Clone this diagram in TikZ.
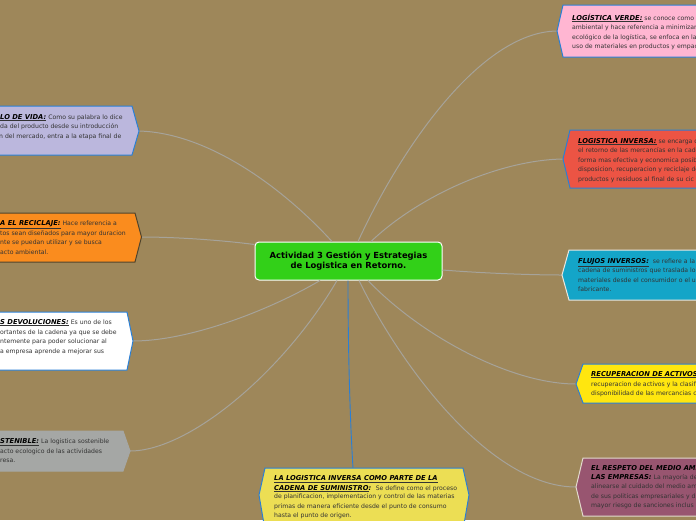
\documentclass[tikz,border=0pt]{standalone}
\usepackage{fontspec}
\setmainfont{DejaVu Sans}
\definecolor{bgc}{HTML}{9E875A}
\definecolor{linkc}{HTML}{A6A39A}
\definecolor{blu}{HTML}{2A7FD5}
\tikzset{x=1pt,y=-1pt,
 hexbox/.style={line width=1pt,line join=miter},
 link/.style={linkc,line width=1pt},
 txt/.style={anchor=base west,inner sep=0pt,font=\fontsize{6.15}{7}\selectfont,text=black!80}}
\newcommand{\ttlb}[1]{{\fontsize{6.75}{7}\selectfont\textbf{\textit{\textcolor{black}{#1}}}}}
\newcommand{\ttl}[1]{\underline{\ttlb{#1}}}
\begin{document}
\begin{tikzpicture}
\useasboundingbox (0,0) rectangle (696,520);
\clip (0,0) rectangle (696,520);
\fill[bgc] (0,0) rectangle (696,520);
\coordinate (tipA) at (139,131); \coordinate (tipB) at (141.5,237); \coordinate (tipC) at (133,341); \coordinate (tipD) at (130,451);
\coordinate (tipE) at (557,31); \coordinate (tipF) at (563,159); \coordinate (tipG) at (562,275); \coordinate (tipH) at (576,384); \coordinate (tipI) at (576,487); \coordinate (tipJ) at (353,468);
\node[draw=white,line width=1pt,fill={rgb,255:red,50;green,208;blue,24},rounded corners=4pt,minimum width=187pt,minimum height=38pt,inner sep=0pt,align=center,font=\fontsize{8.4}{10.2}\selectfont\bfseries] (hub) at (348.5,261) {Actividad 3 Gestión y Estrategias\\de Logistica en Retorno.};
% connectors
\draw[link] ([xshift=-16.5pt]hub.north) .. controls (285,190) and (210,133) .. (tipA);
\draw[link] ([yshift=-3pt]hub.north west) .. controls (220,240) and (175,237) .. (tipB);
\draw[link] ([xshift=-28.5pt]hub.south) .. controls (270,310) and (190,341) .. (tipC);
\draw[link] ([xshift=-11.5pt]hub.south) .. controls (285,370) and (190,451) .. (tipD);
\draw[link] ([xshift=9.5pt]hub.north) .. controls (400,150) and (480,32) .. (tipE);
\draw[link] ([xshift=22.5pt]hub.north) .. controls (420,195) and (500,160) .. (tipF);
\draw[link] ([yshift=-9pt]hub.east) .. controls (480,273) and (530,275) .. (tipG);
\draw[link] ([xshift=19.5pt]hub.south) .. controls (420,335) and (510,384) .. (tipH);
\draw[link] ([xshift=10.5pt]hub.south) .. controls (400,365) and (490,487) .. (tipI);
\draw[blu,line width=0.9pt] ([xshift=-0.5pt]hub.south) .. controls (348,350) and (350,420) .. (tipJ);
% boxes
\draw[hexbox,draw=blu,fill={rgb,255:red,187;green,183;blue,221}] (-10,106) -- (132,106) -- (tipA) -- (132,155) -- (-10,155) -- cycle;
\draw[hexbox,draw=black!50!bgc,fill={rgb,255:red,250;green,140;blue,30}] (-10,213) -- (135,213) -- (tipB) -- (135,262) -- (-10,262) -- cycle;
\draw[hexbox,draw=blu,fill=white] (-10,312) -- (127,312) -- (tipC) -- (127,370) -- (-10,370) -- cycle;
\draw[hexbox,draw={rgb,255:red,165;green,167;blue,165},fill={rgb,255:red,165;green,167;blue,165}] (-10,431) -- (123,431) -- (tipD) -- (123,471) -- (-10,471) -- cycle;
\draw[hexbox,draw=blu,fill={rgb,255:red,255;green,182;blue,210}] (706,5) -- (563,5) -- (tipE) -- (563,57) -- (706,57) -- cycle;
\draw[hexbox,draw=blu,fill={rgb,255:red,236;green,84;blue,68}] (706,130) -- (570,130) -- (tipF) -- (570,188) -- (706,188) -- cycle;
\draw[hexbox,draw=white!80!bgc,fill={rgb,255:red,20;green,165;blue,200}] (706,250) -- (569,250) -- (tipG) -- (569,300) -- (706,300) -- cycle;
\draw[hexbox,draw=blu,fill={rgb,255:red,255;green,230;blue,15}] (706,364) -- (583,364) -- (tipH) -- (583,403) -- (706,403) -- cycle;
\draw[hexbox,draw=white!70!bgc,fill={rgb,255:red,152;green,85;blue,112}] (706,458) -- (583,458) -- (tipI) -- (583,516) -- (706,516) -- cycle;
\draw[hexbox,draw=blu,fill={rgb,255:red,236;green,222;blue,84}] (259,495) -- (265,468) -- (463,468) -- (469,495) -- (463,530) -- (265,530) -- cycle;
% texts
\node[txt] (a1) at (0,119) {\ttl{LO DE VIDA:} Como su palabra lo dice};
\node[txt] (a2) at (0,128.5) {da del producto desde su introducción};
\node[txt] (a3) at (-1,138.5) {n del mercado, entra a la etapa final de};
\node[txt] (b1) at (0,225) {\ttl{A EL RECICLAJE:} Hace referencia a};
\node[txt] (b2) at (0,235) {tos sean diseñados para mayor duracion};
\node[txt] (b3) at (0,244.5) {nte se puedan utilizar y se busca};
\node[txt] (b4) at (0,254) {acto ambiental.};
\node[txt] (c1) at (0,324) {\ttl{S DEVOLUCIONES:} Es uno de los};
\node[txt] (c2) at (0,334) {ortantes de la cadena ya que se debe};
\node[txt] (c3) at (0,343.5) {ntemente para poder solucionar al};
\node[txt] (c4) at (0,353) {a empresa aprende a mejorar sus};
\node[txt] (d1) at (0,443.5) {\ttl{STENIBLE:} La logistica sostenible};
\node[txt] (d2) at (0,453.5) {acto ecologico de las actividades};
\node[txt] (d3) at (0,462.5) {resa.};
\node[txt] (e1) at (572,20) {\ttl{LOGÍSTICA VERDE:} se conoce como};
\node[txt] (e2) at (572,29.5) {ambiental y hace referencia a minimizar e};
\node[txt] (e3) at (572,39) {ecológico de la logística, se enfoca en la};
\node[txt] (e4) at (572,48.5) {uso de materiales en productos y empac};
\node[txt] (f1) at (578,143) {\ttl{LOGISTICA INVERSA:} se encarga d};
\node[txt] (f2) at (578,152.5) {el retorno de las mercancías en la cade};
\node[txt] (f3) at (578,162) {forma mas efectiva y economica posib};
\node[txt] (f4) at (578,171.5) {disposicion, recuperacion y reciclaje de};
\node[txt] (f5) at (578,181) {productos y residuos al final de su cic};
\node[txt] (g1) at (578,263) {\ttl{FLUJOS INVERSOS:} \ se refiere a la};
\node[txt] (g2) at (578,272.5) {cadena de suministros que traslada lo};
\node[txt] (g3) at (578,282) {materiales desde el consumidor o el u};
\node[txt] (g4) at (578,291.5) {fabricante.};
\node[txt] (h1) at (591,376) {\ttl{RECUPERACION DE ACTIVOS}};
\node[txt] (h2) at (591,386) {recuperacion de activos y la clasifi};
\node[txt] (h3) at (591,395) {disponibilidad de las mercancias c};
\node[txt] (i1) at (591,470) {\ttlb{EL RESPETO DEL MEDIO AMB}};
\node[txt] (i2) at (591,479.5) {\ttlb{LAS EMPRESAS:} La mayoría de};
\node[txt] (i3) at (591,488.5) {alinearse al cuidado del medio am};
\node[txt] (i4) at (591,498) {de sus politicas empresariales y d};
\node[txt] (i5) at (591,507.5) {mayor riesgo de sanciones inclus};
\node[txt] (j1) at (274,480.5) {\ttl{LA LOGISTICA INVERSA COMO PARTE DE LA}};
\node[txt] (j2) at (274,490) {\ttl{CADENA DE SUMINISTRO}\ttlb{:} \ Se define como el proceso};
\node[txt] (j3) at (274,498.5) {de planificacion, implementacion y control de las materias};
\node[txt] (j4) at (274,508) {primas de manera eficiente desde el punto de consumo};
\node[txt] (j5) at (274,517) {hasta el punto de origen.};
\end{tikzpicture}
\end{document}
